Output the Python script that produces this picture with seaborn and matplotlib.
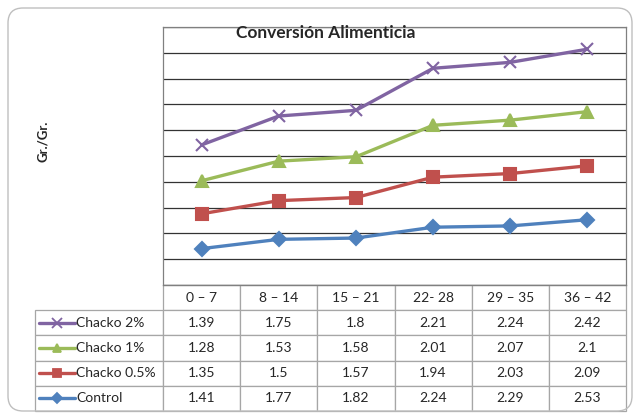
import numpy as np
import pandas as pd
import matplotlib.pyplot as plt
import seaborn as sns
from matplotlib.lines import Line2D
from matplotlib.patches import FancyBboxPatch

periods = ['0 – 7', '8 – 14', '15 – 21', '22- 28', '29 – 35', '36 – 42']
control = [1.41, 1.77, 1.82, 2.24, 2.29, 2.53]
chacko_05 = [1.35, 1.5, 1.57, 1.94, 2.03, 2.09]
chacko_1 = [1.28, 1.53, 1.58, 2.01, 2.07, 2.1]
chacko_2 = [1.39, 1.75, 1.8, 2.21, 2.24, 2.42]

series = ['Control', 'Chacko 0.5%', 'Chacko 1%', 'Chacko 2%']
values = [control, chacko_05, chacko_1, chacko_2]
colors = {'Control': '#4F81BD', 'Chacko 0.5%': '#C0504D',
          'Chacko 1%': '#9BBB59', 'Chacko 2%': '#8064A2'}
markers = {'Control': 'D', 'Chacko 0.5%': 's', 'Chacko 1%': '^', 'Chacko 2%': 'x'}
msizes = {'Control': 7, 'Chacko 0.5%': 8, 'Chacko 1%': 8, 'Chacko 2%': 9}

# stacked line chart: each series sits on top of the previous ones
stacked = np.cumsum(np.array(values), axis=0)
rows = []
for name, vals in zip(series, stacked):
    for i, v in enumerate(vals):
        rows.append({'pos': i, 'serie': name, 'valor': v})
df = pd.DataFrame(rows)

sns.set_style('white')
plt.rcParams['font.family'] = ['Lato', 'DejaVu Sans']

W, H = 638, 413
fig = plt.figure(figsize=(W / 100, H / 100), dpi=100)


def fx(x):
    return x / W


def fy(y):
    return 1 - y / H


ax = fig.add_axes([fx(163), fy(285), fx(626) - fx(163), fy(27) - fy(285)])

for name in series:
    sub = df[df['serie'] == name]
    sns.lineplot(data=sub, x='pos', y='valor', color=colors[name], marker=markers[name],
                 markersize=msizes[name], markeredgecolor=colors[name], markeredgewidth=1.5,
                 lw=2.4, ax=ax, legend=False)

ax.set_xlim(-0.5, 5.5)
ax.set_ylim(0, 10)
ax.set_yticks(range(0, 11))
ax.set_xticks([])
ax.set_yticklabels([])
ax.tick_params(left=False, bottom=False)
ax.set_xlabel('')
ax.set_ylabel('')
ax.grid(axis='y', color='#333333', lw=0.9)
ax.set_axisbelow(True)
for s in ax.spines.values():
    s.set_color('#808080')
    s.set_linewidth(0.9)

# data table under the plot
cell_text = [[''] + periods]
table_order = ['Chacko 2%', 'Chacko 1%', 'Chacko 0.5%', 'Control']
for name in table_order:
    vals = values[series.index(name)]
    cell_text.append([''] + [f'{v:g}' for v in vals])

ax_w = 626 - 163
left_w = 163 - 35
col_w = [left_w] + [ax_w / 6] * 6
tbl = ax.table(cellText=cell_text, colWidths=[c / ax_w for c in col_w],
               cellLoc='center',
               bbox=[(35 - 163) / ax_w, (285 - 411) / 258, (626 - 35) / ax_w, (411 - 285) / 258])
tbl.auto_set_font_size(False)
tbl.set_fontsize(10)
for (r, c), cell in tbl.get_celld().items():
    cell.set_edgecolor('#A6A6A6')
    cell.set_linewidth(0.9)
    cell.get_text().set_color('#262626')
tbl[0, 0].visible_edges = ''

# legend keys + labels in the first column
row_h = (411 - 285) / 5
for k, name in enumerate(table_order):
    yc = 285 + row_h * (k + 1.5)
    fig.add_artist(Line2D([fx(39), fx(75)], [fy(yc), fy(yc)], color=colors[name], lw=2.4))
    fig.add_artist(Line2D([fx(57)], [fy(yc)], color=colors[name], marker=markers[name],
                          markersize=msizes[name] - 2, markeredgewidth=1.3, lw=0))
    fig.text(fx(76), fy(yc), name, ha='left', va='center', fontsize=10, color='#262626')

fig.text(fx(326), fy(33), 'Conversión Alimenticia', ha='center', va='center',
         fontsize=12.5, fontweight='bold')
fig.text(fx(43), fy(141), 'Gr./Gr.', ha='center', va='center', rotation=90,
         fontsize=9.5, fontweight='bold')

frame = FancyBboxPatch((0.08, 0.02), 6.24, 4.03, boxstyle='round,pad=0,rounding_size=0.15',
                       transform=fig.dpi_scale_trans, fill=False, edgecolor='#BFBFBF', lw=1.0)
fig.add_artist(frame)

fig.savefig('out.png', dpi=100)
